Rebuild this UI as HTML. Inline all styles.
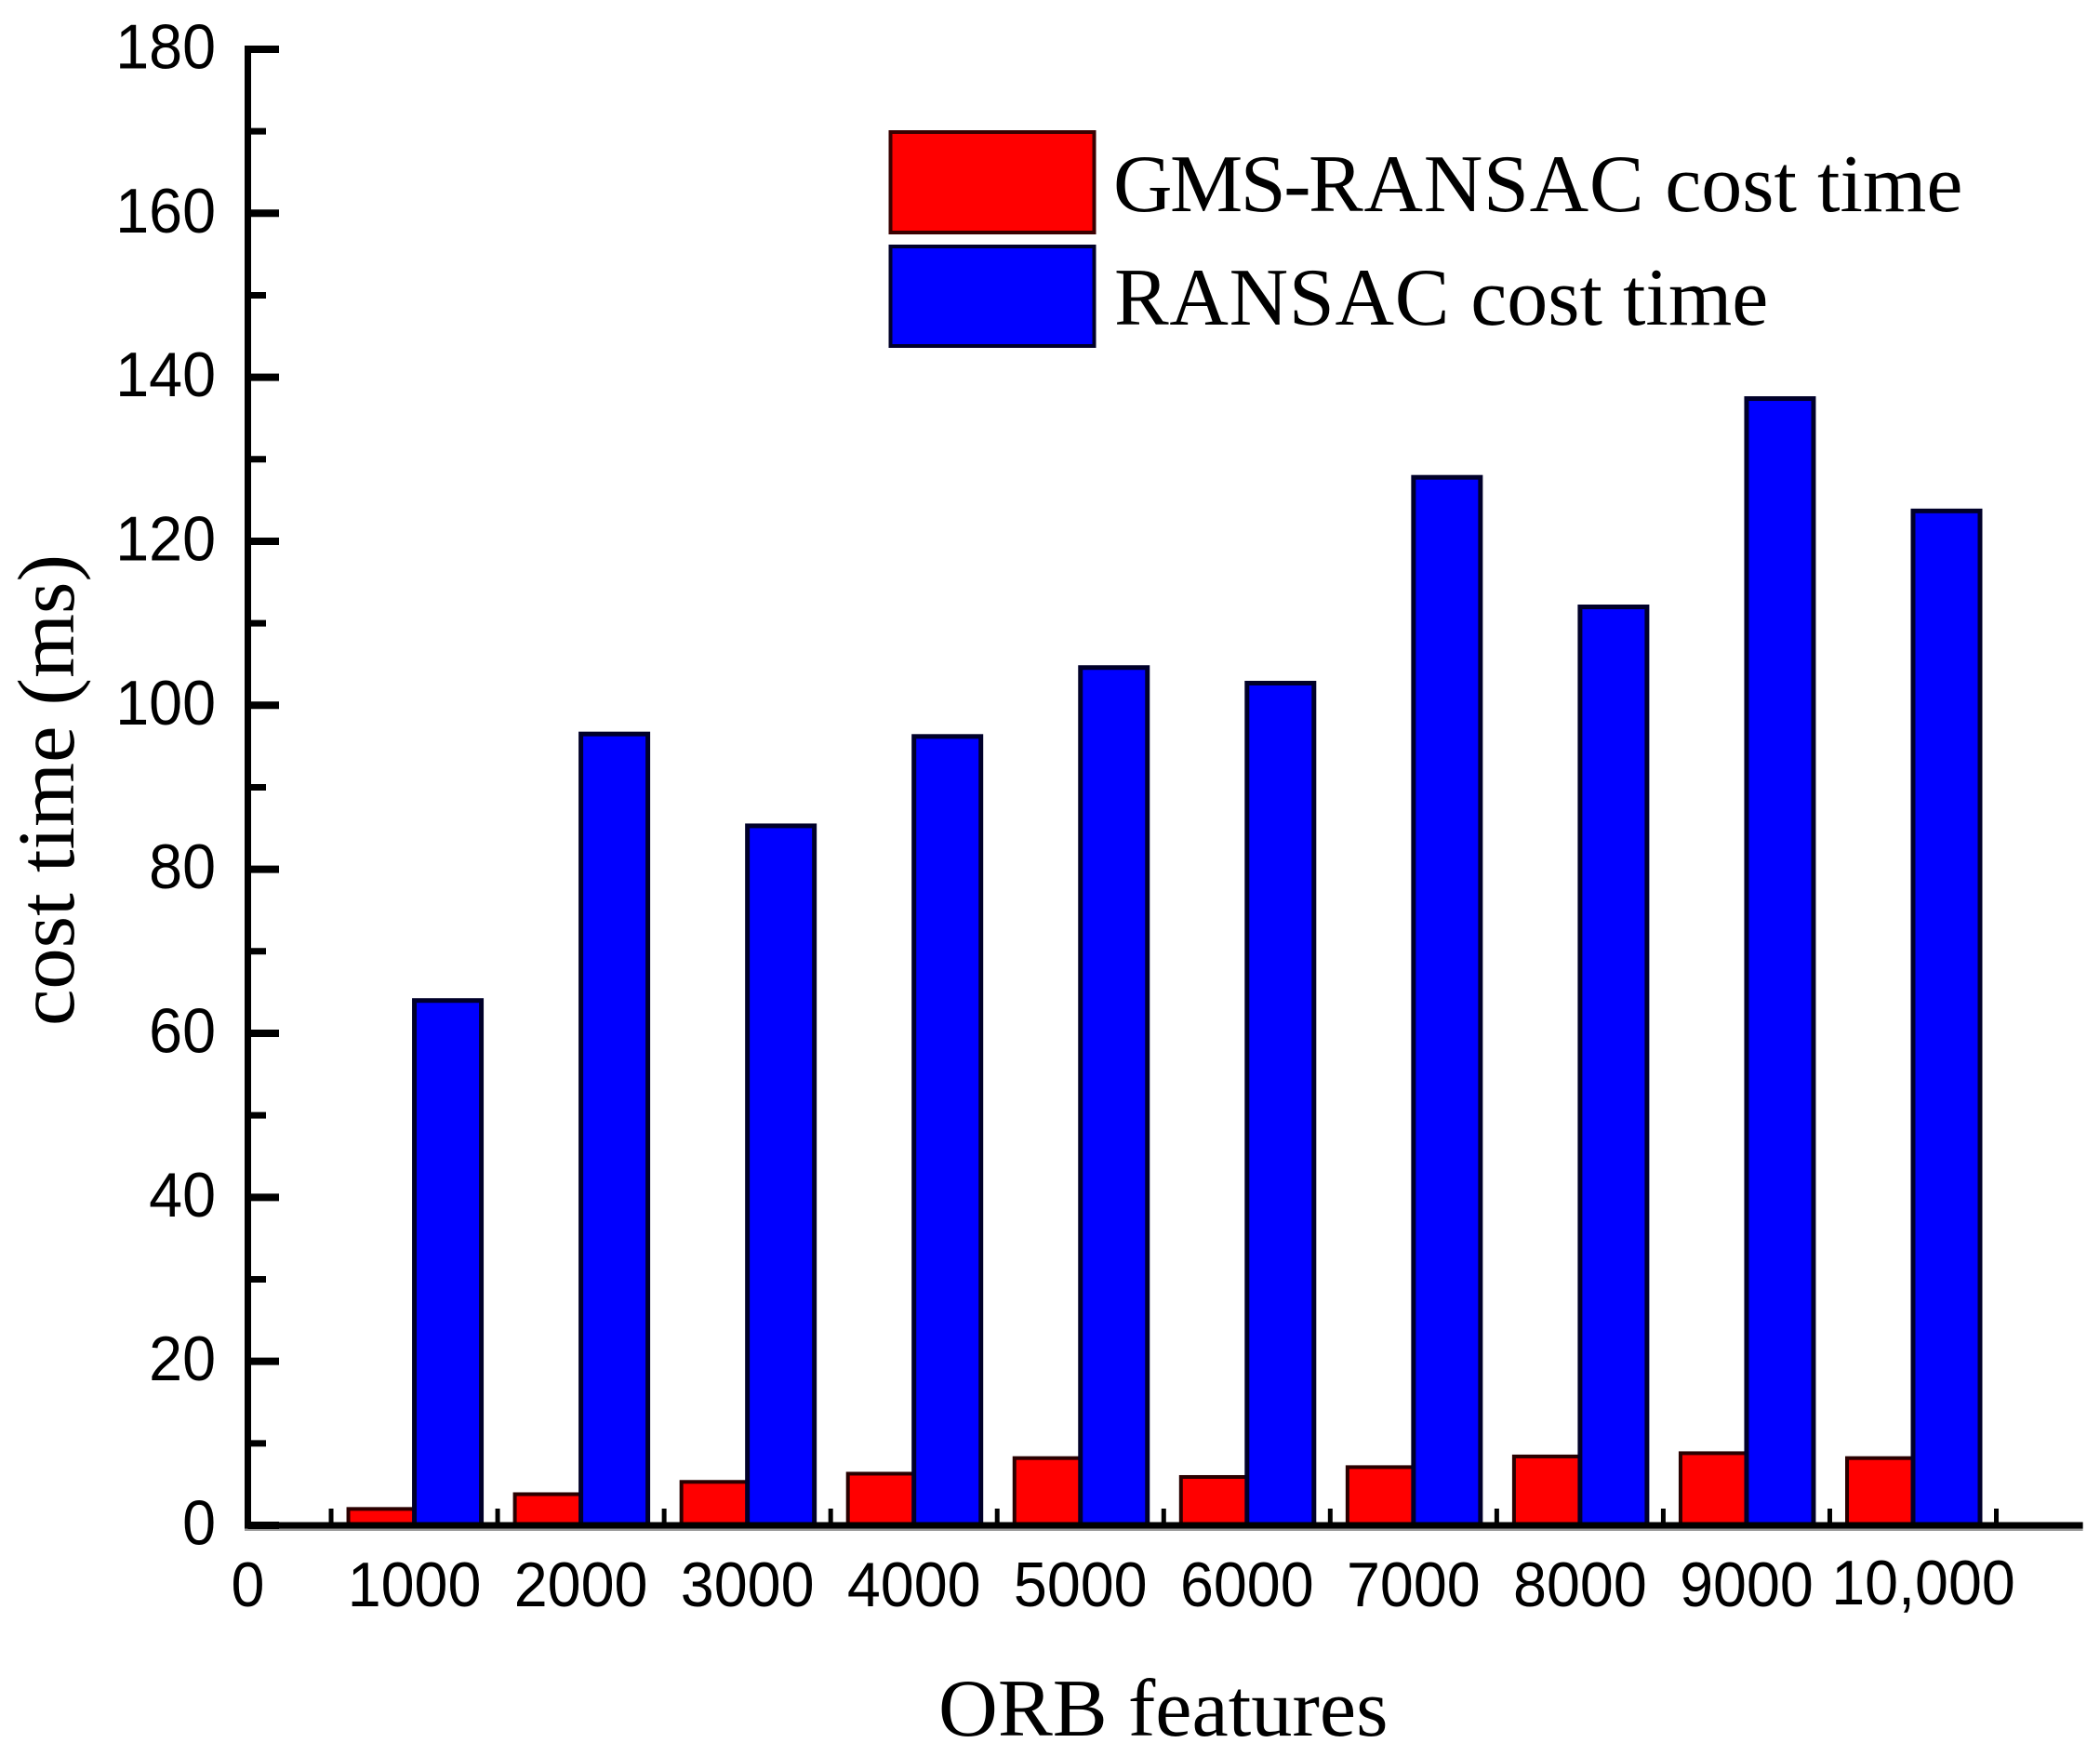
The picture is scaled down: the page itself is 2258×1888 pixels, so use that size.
<!DOCTYPE html>
<html lang="en">
<head>
<meta charset="utf-8">
<title>ORB features cost time</title>
<style>
html,body{margin:0;padding:0;background:#fff;width:2258px;height:1888px;overflow:hidden}
svg{display:block}
.tick{font-family:"Liberation Sans",sans-serif;font-size:68px;fill:#000}
.serif{font-family:"Liberation Serif",serif;fill:#000}
</style>
</head>
<body>
<svg id="chart" xmlns="http://www.w3.org/2000/svg" width="2258" height="1888" viewBox="0 0 2258 1888">
  <rect x="0" y="0" width="2258" height="1888" fill="#fff"/>
  <g id="bars"></g>
  <g id="axes"></g>
  <text class="serif" transform="translate(79 1103) rotate(-90)" font-size="87" textLength="507" lengthAdjust="spacingAndGlyphs">cost time (ms)</text>
  <text class="serif" x="1009" y="1866" font-size="88.4">ORB features</text>
  <g>
    <rect x="957.5" y="142" width="219" height="108" fill="#ff0000" stroke="#3a0000" stroke-width="4"/>
    <text class="serif" x="1197" y="227" font-size="88"><tspan letter-spacing="-2.5">GMS-</tspan><tspan letter-spacing="0.7">RANSAC</tspan><tspan> cost time</tspan></text>
    <rect x="957.5" y="265" width="219" height="107" fill="#0000ff" stroke="#00002a" stroke-width="4"/>
    <text class="serif" x="1198" y="349" font-size="88"><tspan letter-spacing="0.7">RANSAC</tspan><tspan> cost time</tspan></text>
  </g>
</svg>
<script>
const categories = ["1000","2000","3000","4000","5000","6000","7000","8000","9000","10,000"];
const gmsRansacValues = [2.0,3.8,5.3,6.3,8.2,5.9,7.1,8.4,8.8,8.2];
const ransacValues = [64.0,96.5,85.3,96.2,104.6,102.7,127.8,112.0,137.4,123.7];
const yMajorTicks = [0,20,40,60,80,100,120,140,160,180];
const yMinorTicks = [10,30,50,70,90,110,130,150,170];

const NS = "http://www.w3.org/2000/svg";
const xOrigin = 266.5, xUnit = 179.05, xMax = 11.02;
const yOrigin = 1640, yUnit = 8.817;
const barWidth = 72;
const labelSqueeze = 0.95;
function xScale(v){ return xOrigin + xUnit * v; }
function yScale(v){ return yOrigin - yUnit * v; }

const barsGroup = document.getElementById("bars");
const axesGroup = document.getElementById("axes");

function make(tag, attrs, parent){
  const el = document.createElementNS(NS, tag);
  for (const k in attrs) el.setAttribute(k, attrs[k]);
  parent.appendChild(el);
  return el;
}
function labelTransform(x, y){
  return "translate(" + x + " " + y + ") scale(" + labelSqueeze + " 1)";
}

categories.forEach(function(cat, i){
  const c = xScale(i + 1);
  const h = yScale(0) - yScale(gmsRansacValues[i]);
  const bar = make("rect", {x: c - barWidth + 1, y: yScale(gmsRansacValues[i]), width: barWidth - 1, height: h, fill: "#ff0000", stroke: "#2a0000", "stroke-width": 4}, barsGroup);
  
  
});
categories.forEach(function(cat, i){
  const c = xScale(i + 1);
  const h = yScale(0) - yScale(ransacValues[i]);
  const bar = make("rect", {x: c, y: yScale(ransacValues[i]), width: barWidth, height: h, fill: "#0000ff", stroke: "#00002a", "stroke-width": 5}, barsGroup);
  
  
});

/* axis lines */
const axisShadow = make("rect", {x: xScale(0) - 3.5, y: yOrigin + 3, width: xScale(xMax) - xScale(0) + 3.5, height: 3, fill: "#999"}, axesGroup);


const xAxisLine = make("line", {x1: xScale(0) - 3.5, x2: xScale(xMax), y1: yOrigin, y2: yOrigin, stroke: "#000", "stroke-width": 7}, axesGroup);


const yAxisLine = make("line", {x1: xScale(0), x2: xScale(0), y1: yScale(180) - 4, y2: yOrigin + 3.5, stroke: "#000", "stroke-width": 7}, axesGroup);



/* y ticks */
yMajorTicks.forEach(function(v){
  const t = make("line", {x1: xScale(0), x2: 300, y1: yScale(v), y2: yScale(v), stroke: "#000", "stroke-width": 8}, axesGroup);
  
  
  const lab = make("text", {transform: labelTransform(232, yScale(v) + 20.5), "text-anchor": "end", class: "tick"}, axesGroup);
  lab.textContent = String(v);
  
  
});
yMinorTicks.forEach(function(v){
  const t = make("line", {x1: xScale(0), x2: 286, y1: yScale(v), y2: yScale(v), stroke: "#000", "stroke-width": 7}, axesGroup);
  
  
});

/* x ticks between categories */
categories.forEach(function(cat, i){
  const x = xScale(i + 0.5);
  const t = make("line", {x1: x, x2: x, y1: yOrigin - 18, y2: yOrigin, stroke: "#000", "stroke-width": 5}, axesGroup);
  
  
});
const lastTick = make("line", {x1: xScale(categories.length + 0.5), x2: xScale(categories.length + 0.5), y1: yOrigin - 18, y2: yOrigin, stroke: "#000", "stroke-width": 5}, axesGroup);



/* x labels */
const zeroLabel = make("text", {transform: labelTransform(xScale(0), 1727), "text-anchor": "middle", class: "tick"}, axesGroup);
zeroLabel.textContent = "0";


categories.forEach(function(cat, i){
  const wide = cat.length > 4;
  const lab = make("text", {transform: labelTransform(xScale(i + 1) + (wide ? 11 : 0), wide ? 1725 : 1727), "text-anchor": "middle", class: "tick"}, axesGroup);
  lab.textContent = cat;
  
  
});
</script>
</body>
</html>
